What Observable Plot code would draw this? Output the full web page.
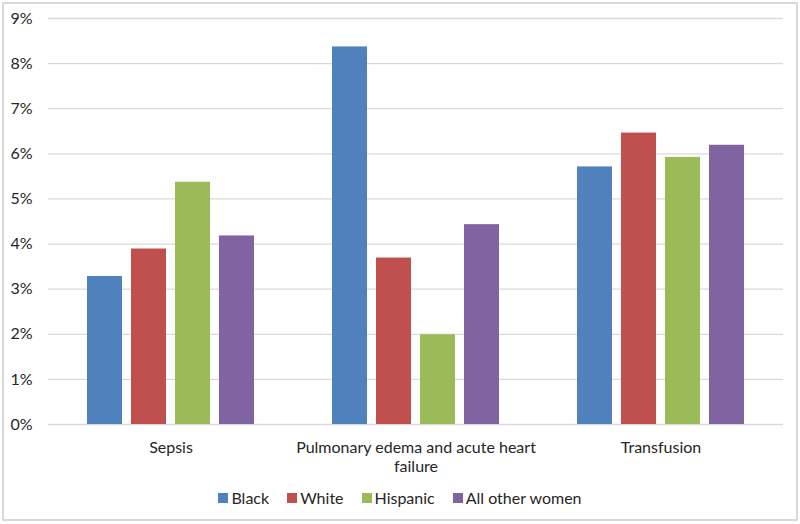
<!DOCTYPE html>
<html>
<head>
<meta charset="utf-8">
<script src="https://cdn.jsdelivr.net/npm/d3@7"></script>
<script src="https://cdn.jsdelivr.net/npm/@observablehq/plot@0.6"></script>
<style>
  html, body { margin: 0; padding: 0; background: #fff; }
  #frame { position: relative; width: 800px; height: 524px; box-sizing: border-box; overflow: hidden; }
  #border { position: absolute; left: 2px; top: 2px; width: 796px; height: 519px; box-sizing: border-box; border: 2px solid #d9d9d9; }
  #chart { position: absolute; left: 0; top: 0; }
  #legend { position: absolute; left: 0; top: 488px; width: 800px; display: flex; justify-content: center; gap: 18px;
    font-family: Lato, "Open Sans", sans-serif; font-size: 16px; color: #262626; }
  .item { display: flex; align-items: center; gap: 3px; }
  .sw { width: 10px; height: 10px; display: inline-block; }
</style>
</head>
<body>
<div id="frame"><div id="border"></div><div id="chart"></div><div id="legend"></div></div>
<script>
const causes = ["Sepsis", "Pulmonary edema and acute heart failure", "Transfusion"];
const causeLabels = ["Sepsis", "Pulmonary edema and acute heart\nfailure", "Transfusion"];
const races = ["Black", "White", "Hispanic", "All other women"];
const black = [3.28, 8.37, 5.71];
const white = [3.89, 3.69, 6.46];
const hispanic = [5.37, 1.99, 5.92];
const otherWomen = [4.18, 4.43, 6.19];
const yTicks = [0, 1, 2, 3, 4, 5, 6, 7, 8, 9];
const colors = ["#4F81BD", "#C0504D", "#9BBB59", "#8064A2"];

const series = [black, white, hispanic, otherWomen];
const data = [];
causes.forEach((c, i) => races.forEach((r, j) => data.push({cause: c, race: r, value: series[j][i]})));

const font = "Lato, 'Open Sans', sans-serif";
const chart = Plot.plot({
  width: 800,
  height: 485,
  marginTop: 18,
  marginBottom: 61,
  marginLeft: 48,
  marginRight: 17,
  style: {fontFamily: font, fontSize: "16px", color: "#262626", background: "transparent"},
  fx: {domain: causes, padding: 0, label: null, axis: null},
  x: {domain: races, paddingInner: 0.207, paddingOuter: 0.856, axis: null},
  y: {domain: [0, 9], label: null},
  color: {domain: races, range: colors},
  marks: [
    Plot.gridY(yTicks, {stroke: "#d9d9d9", strokeOpacity: 1, strokeWidth: 1.3}),
    Plot.axisY(yTicks, {tickSize: 0, tickPadding: 16, tickFormat: d => d + "%", label: null, fontSize: 16}),
    Plot.barY(data, {fx: "cause", x: "race", y: "value", fill: "race"}),
    Plot.axisFx({anchor: "bottom", tickSize: 0, tickPadding: 15, label: null, fontSize: 16, lineHeight: 1.2,
      tickFormat: d => causeLabels[causes.indexOf(d)]})
  ]
});
document.getElementById("chart").appendChild(chart);

const legend = document.getElementById("legend");
races.forEach((r, i) => {
  const it = document.createElement("span");
  it.className = "item";
  const sw = document.createElement("span");
  sw.className = "sw";
  sw.style.background = colors[i];
  const t = document.createElement("span");
  t.textContent = r;
  it.appendChild(sw); it.appendChild(t);
  legend.appendChild(it);
});
</script>
</body>
</html>
